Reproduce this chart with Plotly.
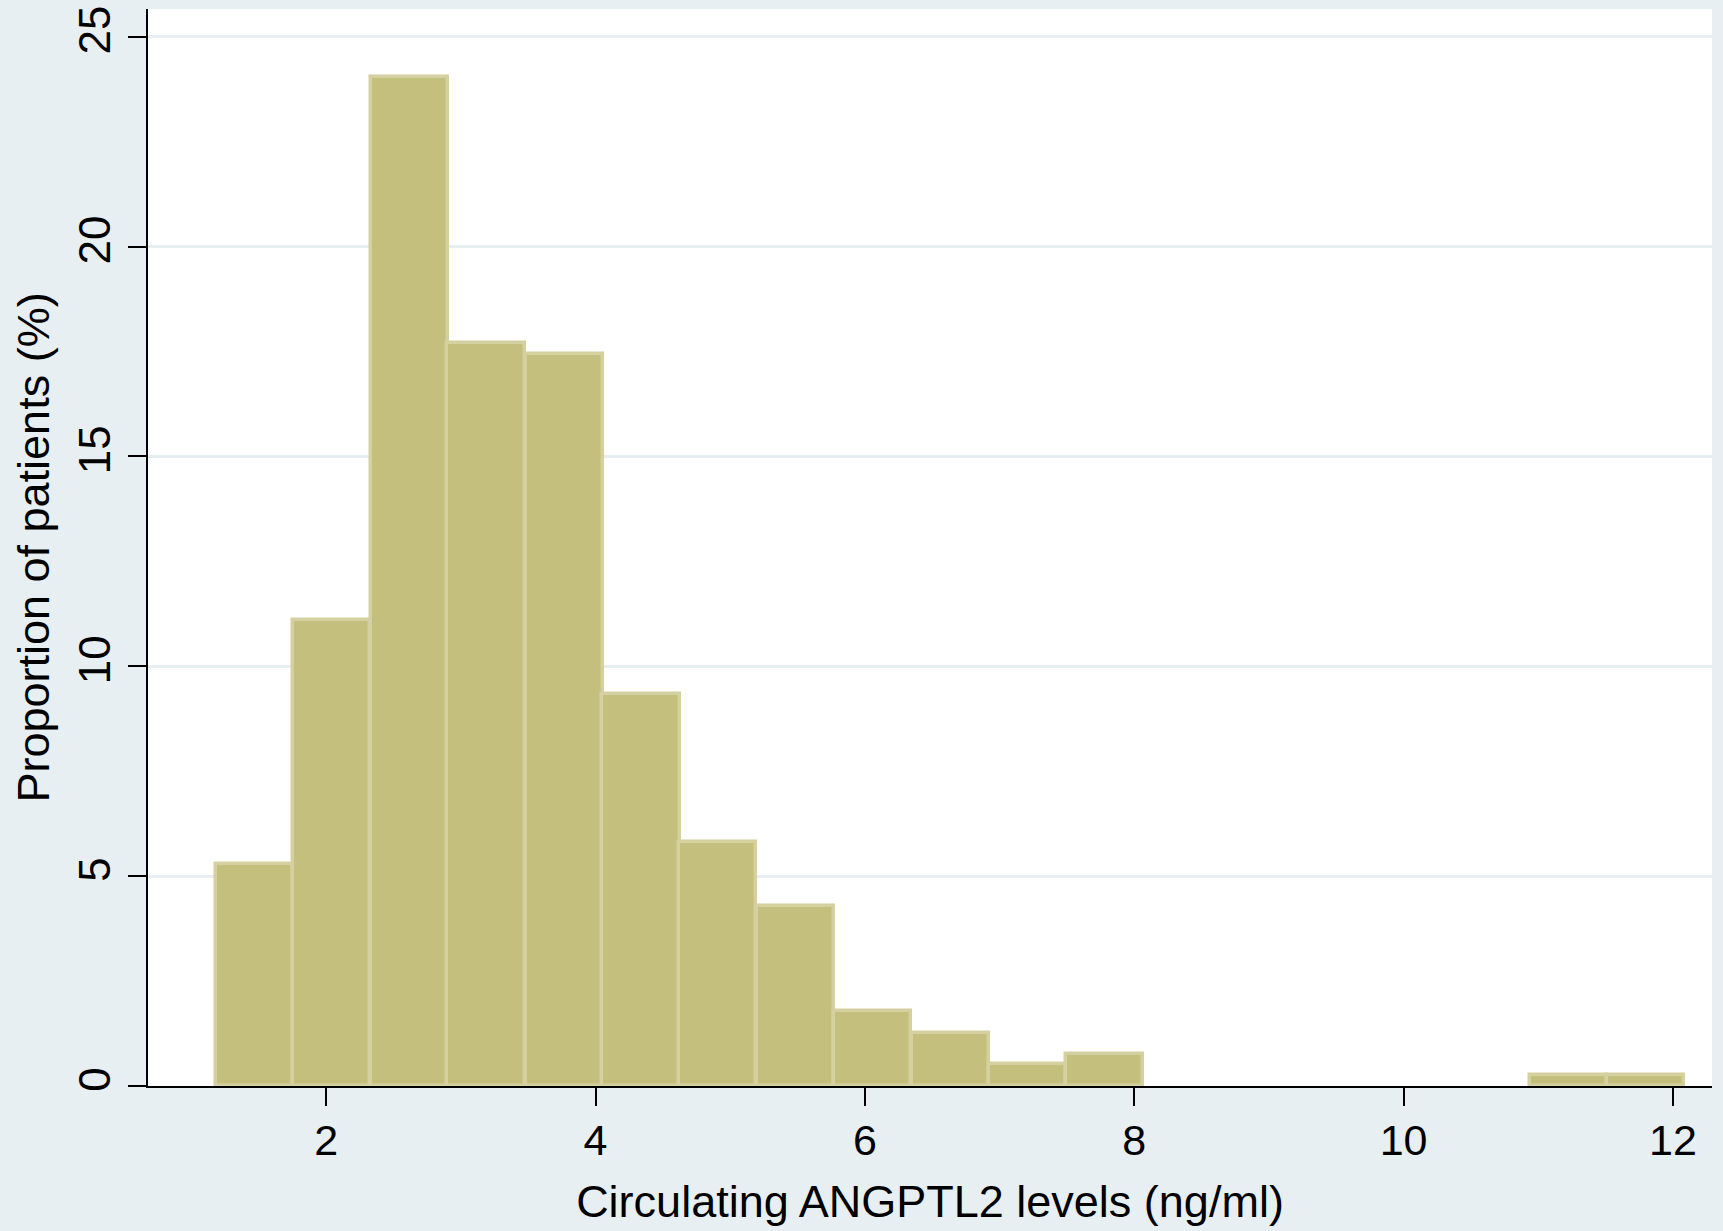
import plotly.graph_objects as go

# Histogram data
bin_left = [1.18, 1.75, 2.33, 2.90, 3.48, 4.05, 4.62, 5.20, 5.77, 6.35, 6.92, 7.49, 10.94, 11.51]
bin_width = 0.574
percent = [5.29, 11.10, 24.03, 17.70, 17.43, 9.33, 5.81, 4.29, 1.78, 1.26, 0.52, 0.76, 0.26, 0.26]

x_ticks = [2, 4, 6, 8, 10, 12]
y_ticks = [0, 5, 10, 15, 20, 25]

BG = "#e8eff2"
FONT = "Liberation Sans, Arial, Helvetica, sans-serif"

centers = [b + bin_width / 2 for b in bin_left]

fig = go.Figure()
fig.add_trace(go.Bar(
    x=centers,
    y=percent,
    width=[bin_width] * len(centers),
    marker=dict(color="#c5bf7d", line=dict(color="#d4d09f", width=3.5)),
    hoverinfo="x+y",
))

fig.update_layout(
    width=1723, height=1231,
    paper_bgcolor=BG,
    plot_bgcolor="white",
    margin=dict(l=148, r=11, t=9, b=145, autoexpand=False),
    showlegend=False,
    bargap=0,
    font=dict(family=FONT, size=42, color="black"),
)

fig.update_xaxes(
    range=[0.677, 12.29],
    tickvals=x_ticks,
    ticktext=[str(v) for v in x_ticks],
    showgrid=False,
    zeroline=False,
    automargin=False,
    showline=True, linecolor="black", linewidth=2,
    ticks="outside", ticklen=18, tickwidth=2, tickcolor="black",
    tickfont=dict(size=43),
    ticklabelstandoff=-3,
    title=dict(text="Circulating ANGPTL2 levels (ng/ml)", font=dict(size=45), standoff=23),
)
fig.update_yaxes(
    range=[0, 25.66],
    tickvals=y_ticks,
    ticktext=[str(v) for v in y_ticks],
    tickangle=-90,
    showgrid=True, gridcolor=BG, gridwidth=3,
    zeroline=False,
    automargin=False,
    showline=True, linecolor="black", linewidth=2,
    ticks="outside", ticklen=18, tickwidth=2, tickcolor="black",
    tickfont=dict(size=44),
    ticklabelstandoff=0,
    title=dict(text="Proportion of patients (%)", font=dict(size=45), standoff=7),
)

fig.write_html(
    "out.html",
    config={"displayModeBar": False},
    post_script="document.body.style.margin='0';document.body.style.overflow='hidden';",
)
